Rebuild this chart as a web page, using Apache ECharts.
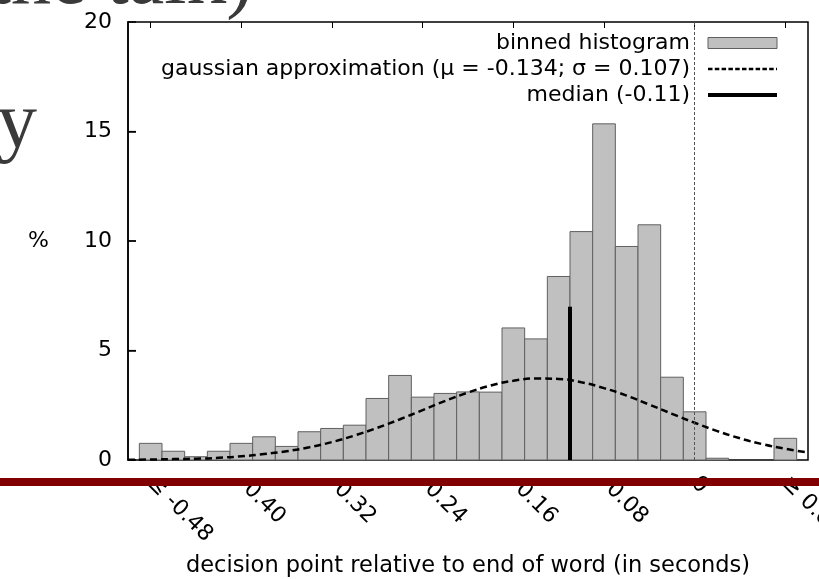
<!DOCTYPE html>
<html>
<head>
<meta charset="utf-8">
<script src="https://cdn.jsdelivr.net/npm/echarts@6/dist/echarts.min.js"></script>
<style>
  html, body { margin: 0; padding: 0; background: #fff; }
  #chart { width: 819px; height: 579px; }
</style>
</head>
<body>
<div id="chart"></div>
<script>
// histogram bins (centre of bin, % of decisions)
const binCenters = [-0.48, -0.46, -0.44, -0.42, -0.40, -0.38, -0.36, -0.34, -0.32, -0.30,
  -0.28, -0.26, -0.24, -0.22, -0.20, -0.18, -0.16, -0.14, -0.12, -0.10,
  -0.08, -0.06, -0.04, -0.02, 0.00, 0.02, 0.04, 0.06, 0.08];
const binHeights = [0.76, 0.40, 0.15, 0.40, 0.76, 1.06, 0.62, 1.29, 1.44, 1.59,
  2.81, 3.86, 2.87, 3.04, 3.11, 3.10, 6.03, 5.53, 8.38, 10.43,
  15.35, 9.75, 10.74, 3.78, 2.20, 0.08, 0, 0, 0.99];
const binWidth = 0.02;

// gaussian curve
const gaussX = [-0.50, -0.48, -0.46, -0.44, -0.42, -0.40, -0.38, -0.36, -0.34, -0.32,
  -0.30, -0.28, -0.26, -0.24, -0.22, -0.20, -0.18, -0.16, -0.14, -0.12,
  -0.10, -0.08, -0.06, -0.04, -0.02, 0.00, 0.02, 0.04, 0.06, 0.08, 0.10];
const gaussY = [0.01, 0.02, 0.04, 0.06, 0.10, 0.17, 0.27, 0.40, 0.58, 0.82,
  1.12, 1.47, 1.86, 2.28, 2.70, 3.08, 3.40, 3.62, 3.72, 3.70,
  3.55, 3.28, 2.94, 2.53, 2.11, 1.70, 1.32, 0.99, 0.72, 0.51, 0.34];

// median marker
const medianX = -0.11;
const medianTop = 7.0;

const tickValues = [-0.48, -0.40, -0.32, -0.24, -0.16, -0.08, 0, 0.08];
const tickLabels = ['≤ -0.48', '-0.40', '-0.32', '-0.24', '-0.16', '-0.08', '0', '≥ 0.08'];
const yTicks = [5, 10, 15];

const histName = 'binned histogram';
const gaussName = 'gaussian approximation (μ = -0.134; σ = 0.107)';
const medianName = 'median (-0.11)';

const FONT = 'DejaVu Sans';
const X_MIN = -0.5;

var chart = echarts.init(document.getElementById('chart'));

function tickLabel(v) {
  let best = 0;
  tickValues.forEach((t, i) => { if (Math.abs(t - v) < Math.abs(tickValues[best] - v)) best = i; });
  return tickLabels[best];
}

const noDot = { color: 'rgba(0,0,0,0)', borderWidth: 0, opacity: 0 };

chart.setOption({
  animation: false,
  backgroundColor: '#fff',
  grid: {
    left: 128, right: 11, top: 22, bottom: 119,
    outerBoundsMode: 'none',
    containLabel: false,
    show: true, borderColor: '#000', borderWidth: 1.5
  },
  legend: {
    orient: 'vertical',
    right: 40,
    top: 32,
    padding: 0,
    align: 'right',
    itemWidth: 69,
    itemHeight: 11,
    itemGap: 4,
    selectedMode: false,
    textStyle: { fontFamily: FONT, fontSize: 22, color: '#000', lineHeight: 22, padding: [0, 13, 0, 0] },
    data: [
      { name: histName, icon: 'rect', itemStyle: { color: '#c0c0c0', borderColor: '#606060', borderWidth: 1 } },
      { name: gaussName, lineStyle: { color: '#000', width: 2.5, type: [4.5, 2.3] }, itemStyle: noDot },
      { name: medianName, lineStyle: { color: '#000', width: 4, type: 'solid' }, itemStyle: noDot }
    ]
  },
  xAxis: [
    {
      type: 'value',
      min: X_MIN,
      max: 0.1,
      position: 'bottom',
      name: 'decision point relative to end of word (in seconds)',
      nameLocation: 'middle',
      nameGap: 95,
      nameTextStyle: { fontFamily: FONT, fontSize: 22.5, color: '#000' },
      axisLine: { show: false, onZero: false },
      axisTick: { show: false },
      splitLine: { show: false },
      axisLabel: {
        customValues: tickValues,
        rotate: -45,
        margin: 20,
        fontFamily: FONT,
        fontSize: 22,
        color: '#000',
        formatter: tickLabel
      }
    },
    {
      type: 'value',
      min: X_MIN,
      max: 0.1,
      position: 'top',
      axisLine: { show: false, onZero: false },
      axisLabel: { show: false },
      splitLine: { show: false },
      axisTick: { customValues: tickValues, inside: true, length: 6, lineStyle: { color: '#000', width: 1 } }
    }
  ],
  yAxis: {
    type: 'value',
    min: 0,
    max: 20,
    interval: 5,
    position: 'left',
    name: '%',
    nameLocation: 'middle',
    nameRotate: 0,
    nameGap: 79,
    nameTextStyle: { fontFamily: FONT, fontSize: 22, color: '#000' },
    axisLine: { show: true, onZero: false, lineStyle: { color: '#000', width: 1.5 } },
    splitLine: { show: false },
    axisTick: { show: true, inside: true, length: 8, lineStyle: { color: '#000', width: 1.5 } },
    axisLabel: { margin: 16, fontFamily: FONT, fontSize: 22, color: '#000' }
  },
  series: [
    {
      name: histName,
      type: 'custom',
      itemStyle: { color: '#c0c0c0', borderColor: '#606060', borderWidth: 1 },
      data: binCenters.map((c, i) => [c, binHeights[i]]),
      renderItem: function (params, api) {
        const c = api.value(0);
        const h = api.value(1);
        if (!h) return null;
        const p0 = api.coord([c - binWidth / 2, h]);
        const p1 = api.coord([c + binWidth / 2, 0]);
        return {
          type: 'rect',
          shape: { x: p0[0], y: p0[1], width: p1[0] - p0[0], height: p1[1] - p0[1] },
          style: { fill: '#c0c0c0', stroke: '#606060', lineWidth: 1 }
        };
      },
      z: 1
    },
    {
      // inward tick marks on the left border (gnuplot style)
      name: 'yticks',
      type: 'custom',
      silent: true,
      clip: false,
      data: yTicks.map(v => [X_MIN, v]),
      renderItem: function (params, api) {
        const p = api.coord([api.value(0), api.value(1)]);
        return {
          type: 'line',
          shape: { x1: p[0], y1: p[1], x2: p[0] + 8, y2: p[1] },
          style: { stroke: '#000', lineWidth: 1.2 }
        };
      },
      z: 5
    },
    {
      name: medianName,
      type: 'line',
      symbol: 'none',
      data: [[medianX, 0], [medianX, medianTop]],
      lineStyle: { color: '#000', width: 4 },
      itemStyle: { color: '#000' },
      z: 3,
      markLine: {
        silent: true,
        symbol: 'none',
        label: { show: false },
        lineStyle: { color: '#555', width: 1, type: [3, 2] },
        data: [{ xAxis: 0 }]
      }
    },
    {
      name: gaussName,
      type: 'line',
      symbol: 'none',
      smooth: true,
      data: gaussX.map((x, i) => [x, gaussY[i]]),
      lineStyle: { color: '#000', width: 2.5, type: [7, 4] },
      itemStyle: { color: '#000' },
      z: 4
    }
  ],
  graphic: [
    {
      type: 'text', z: 0,
      style: { text: 'the talk)', x: 253, y: -58, align: 'right', verticalAlign: 'top',
        font: '80px "Liberation Serif"', fill: '#3a3a3a' }
    },
    {
      type: 'text', z: 0,
      style: { text: 'y', x: 37, y: 86, align: 'right', verticalAlign: 'top',
        font: '80px "Liberation Serif"', fill: '#3a3a3a' }
    },
    {
      type: 'rect', z: 100,
      shape: { x: 0, y: 478, width: 819, height: 8 },
      style: { fill: '#800000' }
    }
  ]
});
</script>
</body>
</html>
